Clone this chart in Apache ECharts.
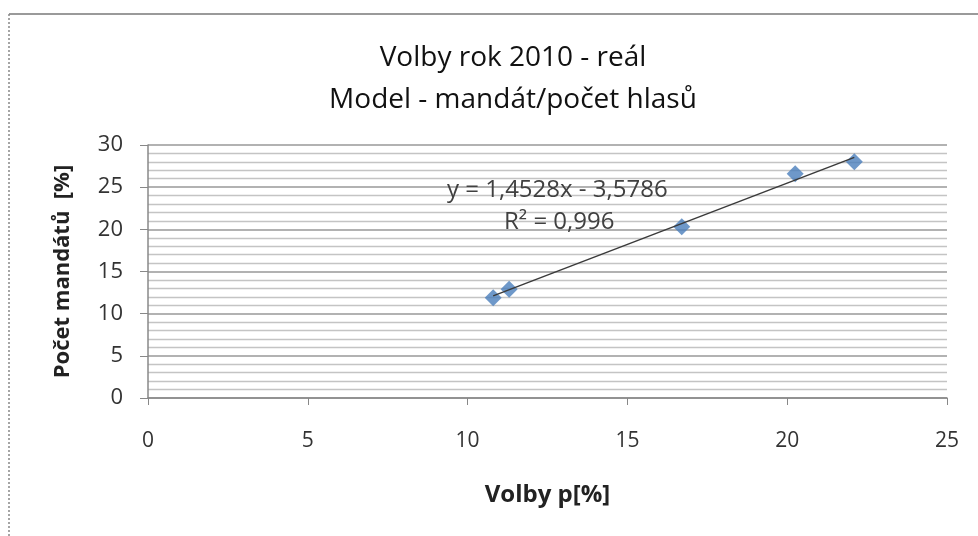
<!DOCTYPE html>
<html>
<head>
<meta charset="utf-8">
<script src="https://cdn.jsdelivr.net/npm/echarts@6/dist/echarts.min.js"></script>
<style>
	html, body { margin: 0; padding: 0; background: #fff; }
	#chart { width: 978px; height: 536px; }
</style>
</head>
<body>
<div id="chart"></div>
<script>
	// hodnoty
	var volby = [10.8, 11.3, 16.7, 20.25, 22.1];
	var mandaty = [11.9, 12.9, 20.3, 26.6, 28.0];
	var slope = 1.4528;
	var intercept = -3.5786;
	var r2 = '0,996';
	var fontName = 'Open Sans';

	var points = [];
	for (var i = 0; i < volby.length; i++) {
		points.push([volby[i], mandaty[i]]);
	}
	// spojnice trendu od min do max x
	var xMin = Math.min.apply(null, volby);
	var xMax = Math.max.apply(null, volby);
	var trend = [
		[xMin, slope * xMin + intercept],
		[xMax, slope * xMax + intercept]
	];
	var fmt = function (v) { return String(v).replace('.', ','); };

	var chart = echarts.init(document.getElementById('chart'));
	var option = {
		animation: false,
		backgroundColor: '#fff',
		title: {
			text: 'Volby rok 2010 - reál\nModel - mandát/počet hlasů',
			left: 508,
			textAlign: 'center',
			top: 32,
			textStyle: {
				fontFamily: fontName,
				fontWeight: 'normal',
				fontSize: 28,
				lineHeight: 42,
				color: '#111'
			}
		},
		grid: {
			left: 148,
			right: 31,
			top: 145,
			bottom: 138
		},
		xAxis: {
			type: 'value',
			min: 0,
			max: 25,
			interval: 5,
			name: 'Volby p[%]',
			nameLocation: 'middle',
			nameGap: 85,
			nameTextStyle: { fontFamily: fontName, fontWeight: 'bold', fontSize: 24, color: '#222' },
			axisLine: { show: true, lineStyle: { color: '#888', width: 1.5 } },
			axisTick: { show: true, inside: false, length: 7, lineStyle: { color: '#888' } },
			axisLabel: { margin: 33, fontFamily: fontName, fontSize: 21, color: '#333' },
			splitLine: { show: false }
		},
		yAxis: {
			type: 'value',
			min: 0,
			max: 30,
			interval: 5,
			name: 'Počet mandátů  [%]',
			nameLocation: 'middle',
			nameGap: 74,
			nameRotate: 90,
			nameTextStyle: { fontFamily: fontName, fontWeight: 'bold', fontSize: 22, color: '#222' },
			axisLine: { show: true, lineStyle: { color: '#888', width: 1.5 } },
			axisTick: { show: true, length: 8, lineStyle: { color: '#888' } },
			axisLabel: { margin: 25, fontFamily: fontName, fontSize: 22, color: '#333' },
			splitLine: { show: true, lineStyle: { color: '#999', width: 1.5 } },
			minorTick: { show: false, splitNumber: 5 },
			minorSplitLine: { show: true, lineStyle: { color: '#c4c4c4', width: 1.3 } }
		},
		graphic: [
			{
				type: 'line',
				shape: { x1: 9, y1: 14, x2: 978, y2: 14 },
				style: { stroke: '#9a9a9a', lineWidth: 2 }
			},
			{
				type: 'line',
				shape: { x1: 9, y1: 14, x2: 9, y2: 536 },
				style: { stroke: '#888', lineWidth: 1.5, lineDash: [2, 2] }
			},
			{
				type: 'text',
				left: 447,
				top: 178,
				style: {
					text: 'y = ' + fmt(slope) + 'x - ' + fmt(-intercept),
					fontFamily: fontName,
					fontSize: 24,
					fill: '#404040'
				},
				z: 10
			},
			{
				type: 'text',
				left: 504,
				top: 210,
				style: {
					text: 'R² = ' + r2,
					fontFamily: fontName,
					fontSize: 24,
					fill: '#404040'
				},
				z: 10
			}
		],
		series: [
			{
				name: 'data',
				type: 'scatter',
				data: points,
				symbol: 'diamond',
				symbolSize: 17,
				itemStyle: { color: '#4a7ebb' },
				z: 3
			},
			{
				name: 'trend',
				type: 'line',
				data: trend,
				symbol: 'none',
				lineStyle: { color: '#3a3a3a', width: 1.5 },
				z: 4
			}
		]
	};
	chart.setOption(option);
</script>
</body>
</html>
